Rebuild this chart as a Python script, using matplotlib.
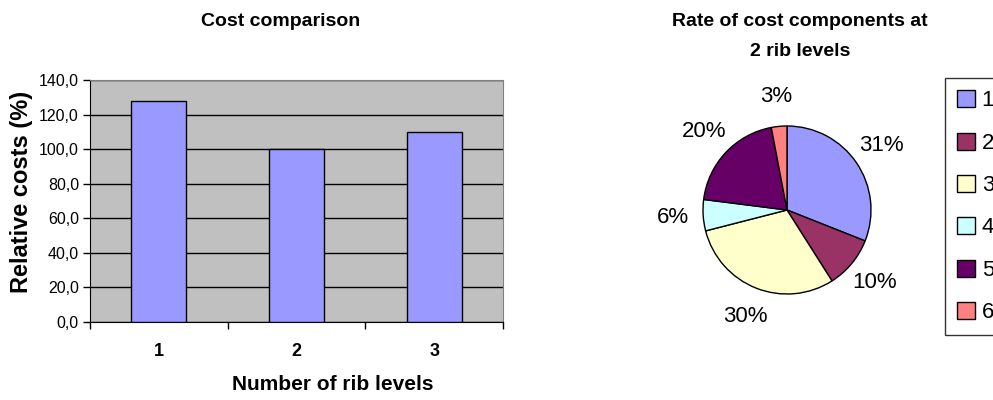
import numpy as np
import matplotlib.pyplot as plt
from matplotlib.patches import Rectangle

plt.rcParams['font.family'] = ['Liberation Sans', 'DejaVu Sans']

# bar chart data
rib_levels = ["1", "2", "3"]
relative_costs = [128.0, 100.0, 110.0]
y_ticks = [0, 20, 40, 60, 80, 100, 120, 140]
y_tick_labels = ["0,0", "20,0", "40,0", "60,0", "80,0", "100,0", "120,0", "140,0"]

# pie chart data
components = ["1", "2", "3", "4", "5", "6"]
shares = [31, 10, 30, 6, 20, 3]
pie_colors = ["#9999FF", "#993366", "#FFFFCC", "#CCFFFF", "#660066", "#FF8080"]

fig = plt.figure(figsize=(9.93, 4.0), dpi=100)

# ---- Cost comparison (bar chart) ----
ax = fig.add_axes([90 / 993, 1 - 322 / 400, 413 / 993, 242 / 400])
ax.set_facecolor("#C0C0C0")
x = np.arange(len(rib_levels))
ax.bar(x, relative_costs, width=0.4, color="#9999FF", edgecolor="black",
       linewidth=1.0, zorder=3)
ax.set_xlim(-0.5, len(rib_levels) - 0.5)
ax.set_ylim(0, 140)
ax.set_yticks(y_ticks)
ax.set_yticklabels(y_tick_labels, fontsize=11.5)
ax.yaxis.grid(True, color="black", linewidth=1.0, zorder=1)
ax.set_axisbelow(True)

# category ticks sit between the bars, labels sit under the bars
ax.set_xticks(np.arange(len(rib_levels) + 1) - 0.5)
ax.set_xticklabels([])
ax.tick_params(axis="x", length=5, width=1, direction="out")
ax.tick_params(axis="y", length=5, width=1, direction="out", pad=3)
for xi, lab in zip(x, rib_levels):
    ax.text(xi, -17, lab, ha="center", va="center", fontsize=13,
            fontweight="bold")

for side in ["top", "right"]:
    ax.spines[side].set_color("#808080")
ax.spines["left"].set_color("black")
ax.spines["bottom"].set_color("black")

fig.text(22 / 993, 1 - 192 / 400, "Relative costs (%)", rotation=90,
         ha="center", va="center", fontsize=17, fontweight="bold")
fig.text(333 / 993, 1 - 384 / 400, "Number of rib levels",
         ha="center", va="center", fontsize=15, fontweight="bold")
fig.text(281 / 993, 1 - 22 / 400, "Cost comparison",
         ha="center", va="center", fontsize=14, fontweight="bold")

# ---- Rate of cost components (pie chart) ----
r_px = 84
pax = fig.add_axes([(787 - r_px) / 993, 1 - (210 + r_px) / 400,
                    2 * r_px / 993, 2 * r_px / 400])
pax.pie(shares, colors=pie_colors, startangle=90, counterclock=False,
        radius=1.0, autopct="%d%%", pctdistance=1.36,
        wedgeprops=dict(edgecolor="black", linewidth=1.0),
        textprops=dict(fontsize=16))
pax.set_xlim(-1, 1)
pax.set_ylim(-1, 1)
pax.set_aspect("equal")
pax.axis("off")

fig.text(800 / 993, 1 - 22 / 400, "Rate of cost components at",
         ha="center", va="center", fontsize=14, fontweight="bold")
fig.text(800 / 993, 1 - 52 / 400, "2 rib levels",
         ha="center", va="center", fontsize=14, fontweight="bold")

# legend, clipped at the right edge of the figure
handles = [Rectangle((0, 0), 1, 1, facecolor=c, edgecolor="black", linewidth=1.0)
           for c in pie_colors]
leg = fig.legend(handles, components, loc="upper left",
                 bbox_to_anchor=(945 / 993, 1 - 78 / 400),
                 fontsize=16, frameon=True, fancybox=False,
                 edgecolor="black", handlelength=0.8, handleheight=0.8,
                 handletextpad=0.3, labelspacing=0.95, borderpad=0.55,
                 borderaxespad=0)
leg.get_frame().set_linewidth(1.0)

fig.savefig("out.png", dpi=100)
